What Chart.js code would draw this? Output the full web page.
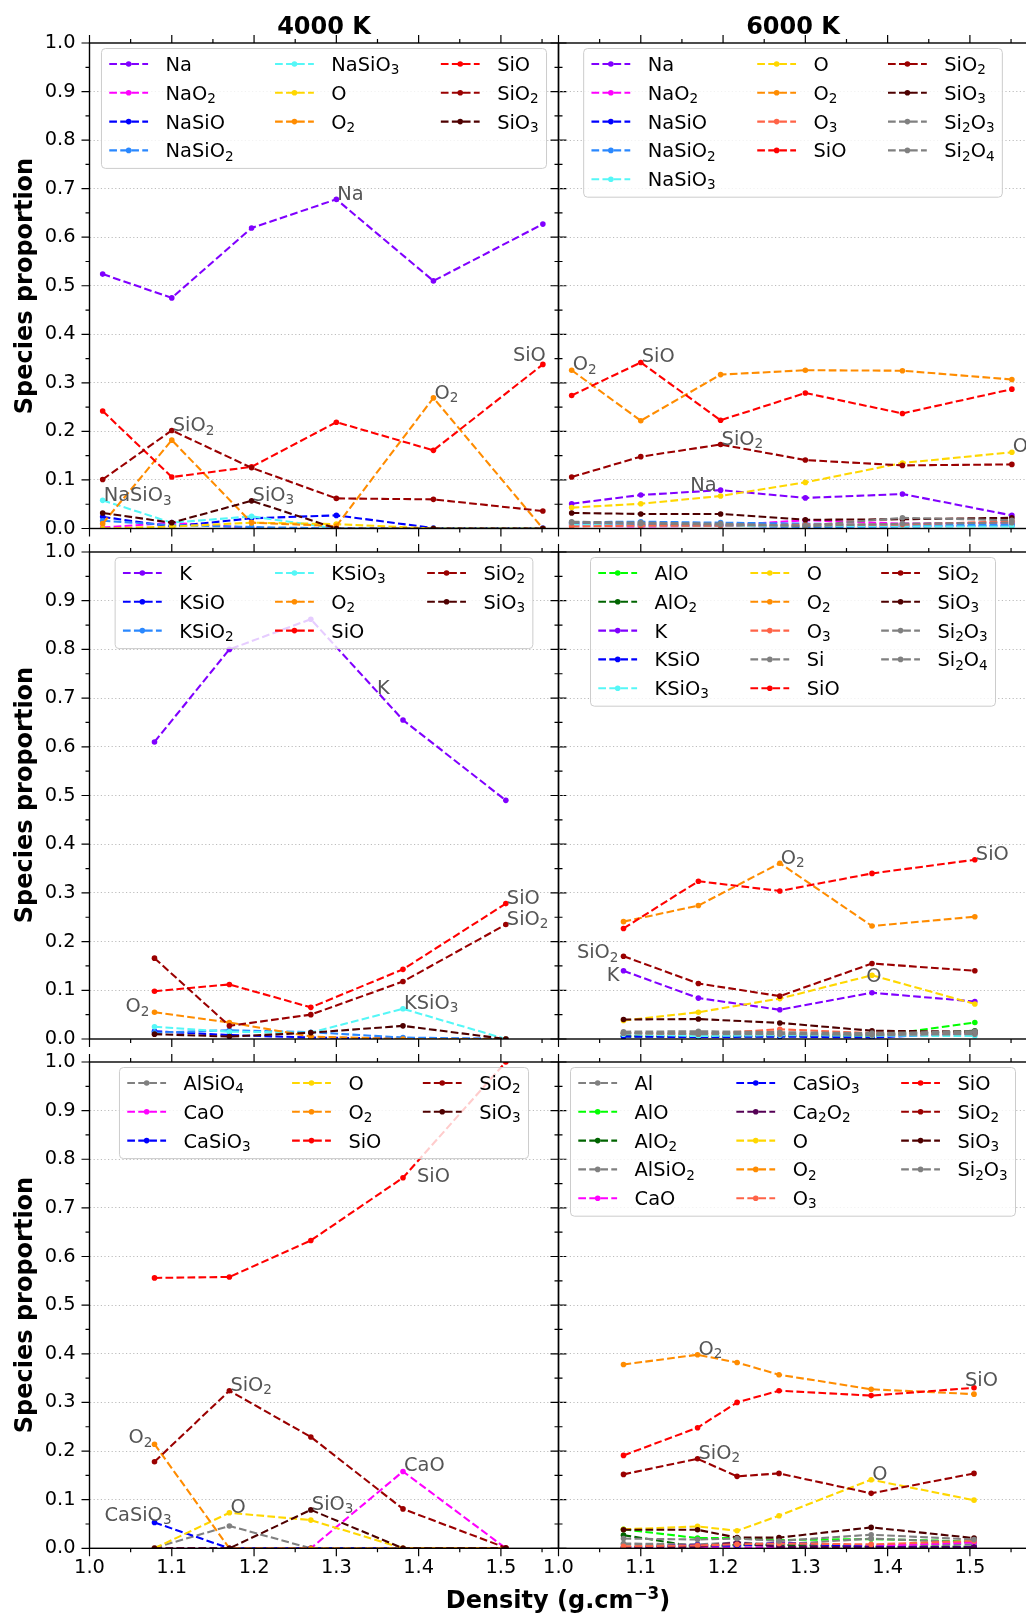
<!DOCTYPE html>
<html>
<head>
<meta charset="utf-8">
<script src="https://cdn.jsdelivr.net/npm/chart.js@4.4.0/dist/chart.umd.min.js"></script>
<style>
html,body{margin:0;padding:0;background:#fff;overflow:hidden;width:1026px;height:1614px;position:relative;font-family:"DejaVu Sans",sans-serif;}
canvas{position:absolute;}
.lbl{position:absolute;font-family:"DejaVu Sans",sans-serif;font-weight:bold;color:#000;white-space:nowrap;z-index:5;}
</style>
</head>
<body>
<div class="lbl" id="t1" style="left:324px;top:26px;font-size:24px;transform:translate(-50%,-50%);">4000 K</div>
<div class="lbl" id="t2" style="left:793px;top:26px;font-size:24px;transform:translate(-50%,-50%);">6000 K</div>
<div class="lbl" style="left:24px;top:286px;font-size:24px;transform:translate(-50%,-50%) rotate(-90deg);">Species proportion</div>
<div class="lbl" style="left:24px;top:795px;font-size:24px;transform:translate(-50%,-50%) rotate(-90deg);">Species proportion</div>
<div class="lbl" style="left:24px;top:1305px;font-size:24px;transform:translate(-50%,-50%) rotate(-90deg);">Species proportion</div>
<div class="lbl" style="left:558px;top:1598px;font-size:24px;transform:translate(-50%,-50%);">Density (g.cm<sup style="font-size:70%;">−3</sup>)</div>
<script>
// ---------------- DATA ----------------
const densityNa = [1.016, 1.100, 1.197, 1.300, 1.418, 1.551];
const densityK = [1.079, 1.170, 1.269, 1.381, 1.506];
const densityCa4000 = [1.079, 1.170, 1.269, 1.381, 1.506];
const densityCa6000 = [1.079, 1.169, 1.217, 1.268, 1.380, 1.505];
const xTickLabels = [1.0, 1.1, 1.2, 1.3, 1.4, 1.5];
const yTickLabels = [0.0, 0.1, 0.2, 0.3, 0.4, 0.5, 0.6, 0.7, 0.8, 0.9, 1.0];

const speciesNa4000 = ['Na', 'NaO2', 'NaSiO', 'NaSiO2', 'NaSiO3', 'O', 'O2', 'SiO', 'SiO2', 'SiO3'];
const valuesNa4000 = [
  [0.524, 0.475, 0.619, 0.678, 0.510, 0.627],
  [0.002, 0.012, 0.001, 0.000, 0.000, 0.000],
  [0.024, 0.004, 0.021, 0.027, 0.001, 0.001],
  [0.016, 0.007, 0.003, 0.000, 0.000, 0.000],
  [0.058, 0.012, 0.025, 0.000, 0.000, 0.000],
  [0.000, 0.004, 0.012, 0.009, 0.000, 0.000],
  [0.010, 0.182, 0.012, 0.005, 0.269, 0.000],
  [0.242, 0.106, 0.127, 0.219, 0.161, 0.338],
  [0.101, 0.202, 0.125, 0.062, 0.060, 0.036],
  [0.032, 0.012, 0.057, 0.000, 0.000, 0.000]
];

const speciesNa6000 = ['Na', 'NaO2', 'NaSiO', 'NaSiO2', 'NaSiO3', 'O', 'O2', 'O3', 'SiO', 'SiO2', 'SiO3', 'Si2O3', 'Si2O4'];
const valuesNa6000 = [
  [0.051, 0.069, 0.079, 0.063, 0.071, 0.027],
  [0.006, 0.004, 0.006, 0.017, 0.010, 0.012],
  [0.010, 0.008, 0.006, 0.003, 0.004, 0.006],
  [0.013, 0.014, 0.012, 0.010, 0.007, 0.008],
  [0.008, 0.006, 0.006, 0.004, 0.004, 0.004],
  [0.043, 0.051, 0.067, 0.095, 0.135, 0.157],
  [0.326, 0.222, 0.317, 0.326, 0.325, 0.307],
  [0.004, 0.006, 0.006, 0.008, 0.008, 0.015],
  [0.274, 0.342, 0.223, 0.279, 0.237, 0.287],
  [0.106, 0.148, 0.173, 0.141, 0.130, 0.132],
  [0.032, 0.030, 0.030, 0.018, 0.019, 0.022],
  [0.014, 0.012, 0.010, 0.006, 0.022, 0.017],
  [0.012, 0.010, 0.008, 0.005, 0.010, 0.012]
];

const speciesK4000 = ['K', 'KSiO', 'KSiO2', 'KSiO3', 'O2', 'SiO', 'SiO2', 'SiO3'];
const valuesK4000 = [
  [0.610, 0.800, 0.862, 0.655, 0.490],
  [0.016, 0.008, 0.003, 0.001, 0.000],
  [0.013, 0.018, 0.014, 0.003, 0.000],
  [0.025, 0.015, 0.013, 0.062, 0.000],
  [0.055, 0.034, 0.005, 0.000, 0.000],
  [0.098, 0.112, 0.065, 0.143, 0.278],
  [0.166, 0.027, 0.050, 0.118, 0.235],
  [0.010, 0.005, 0.013, 0.027, 0.000]
];

const speciesK6000 = ['AlO', 'AlO2', 'K', 'KSiO', 'KSiO3', 'O', 'O2', 'O3', 'Si', 'SiO', 'SiO2', 'SiO3', 'Si2O3', 'Si2O4'];
const valuesK6000 = [
  [0.005, 0.005, 0.006, 0.005, 0.034],
  [0.006, 0.005, 0.006, 0.008, 0.017],
  [0.140, 0.084, 0.060, 0.095, 0.077],
  [0.005, 0.004, 0.005, 0.003, 0.012],
  [0.010, 0.006, 0.008, 0.007, 0.006],
  [0.038, 0.055, 0.083, 0.131, 0.072],
  [0.241, 0.274, 0.361, 0.232, 0.251],
  [0.012, 0.010, 0.020, 0.012, 0.012],
  [0.012, 0.010, 0.010, 0.008, 0.010],
  [0.227, 0.324, 0.304, 0.340, 0.368],
  [0.170, 0.114, 0.088, 0.155, 0.140],
  [0.040, 0.041, 0.033, 0.017, 0.015],
  [0.015, 0.016, 0.014, 0.012, 0.016],
  [0.012, 0.013, 0.011, 0.010, 0.014]
];

const speciesCa4000 = ['AlSiO4', 'CaO', 'CaSiO3', 'O', 'O2', 'SiO', 'SiO2', 'SiO3'];
const valuesCa4000 = [
  [0.001, 0.046, 0.000, 0.000, 0.000],
  [0.000, 0.000, 0.000, 0.158, 0.000],
  [0.053, 0.000, 0.000, 0.000, 0.000],
  [0.000, 0.073, 0.058, 0.000, 0.000],
  [0.214, 0.000, 0.000, 0.000, 0.000],
  [0.556, 0.558, 0.633, 0.762, 1.000],
  [0.178, 0.324, 0.229, 0.081, 0.001],
  [0.000, 0.000, 0.079, 0.000, 0.000]
];

const speciesCa6000 = ['Al', 'AlO', 'AlO2', 'AlSiO2', 'CaO', 'CaSiO3', 'Ca2O2', 'O', 'O2', 'O3', 'SiO', 'SiO2', 'SiO3', 'Si2O3'];
const valuesCa6000 = [
  [0.008, 0.005, 0.006, 0.004, 0.006, 0.008],
  [0.039, 0.021, 0.021, 0.017, 0.019, 0.014],
  [0.027, 0.003, 0.007, 0.007, 0.003, 0.003],
  [0.010, 0.008, 0.012, 0.008, 0.020, 0.012],
  [0.000, 0.003, 0.001, 0.002, 0.005, 0.012],
  [0.002, 0.007, 0.005, 0.012, 0.003, 0.002],
  [0.002, 0.003, 0.012, 0.003, 0.002, 0.002],
  [0.039, 0.045, 0.036, 0.067, 0.141, 0.099],
  [0.378, 0.398, 0.382, 0.357, 0.327, 0.317],
  [0.004, 0.006, 0.008, 0.010, 0.008, 0.015],
  [0.191, 0.248, 0.300, 0.324, 0.314, 0.330],
  [0.152, 0.184, 0.148, 0.154, 0.113, 0.154],
  [0.038, 0.038, 0.022, 0.022, 0.043, 0.021],
  [0.020, 0.018, 0.020, 0.015, 0.028, 0.018]
];

// ---------------- STYLE ----------------
const speciesColors = {
  'Na': '#8000ff', 'K': '#8000ff',
  'NaO2': '#ff00ff', 'CaO': '#ff00ff',
  'NaSiO': '#0000ff', 'KSiO': '#0000ff', 'CaSiO3': '#0000ff',
  'NaSiO2': '#2a88ff', 'KSiO2': '#2a88ff',
  'NaSiO3': '#55f7f7', 'KSiO3': '#55f7f7',
  'O': '#ffd700', 'O2': '#ff8c00', 'O3': '#ff6347',
  'SiO': '#ff0000', 'SiO2': '#9a0000', 'SiO3': '#4e0000',
  'Si2O3': '#808080', 'Si2O4': '#808080', 'Si': '#808080',
  'Al': '#808080', 'AlSiO2': '#808080', 'AlSiO4': '#808080',
  'AlO': '#00ff00', 'AlO2': '#006400', 'Ca2O2': '#550055'
};

// annotation placement: [label, point index, align, dx, dy]
const notesNa4000 = [['Na',3,'left',1,1],['SiO',5,'right',3,-3],['O2',4,'left',1,1],['SiO2',1,'left',1,1],['NaSiO3',0,'left',1,1],['SiO3',2,'left',1,0]];
const notesNa6000 = [['O2',0,'left',1,0],['SiO',1,'left',1,0],['SiO2',2,'left',1,0],['Na',2,'right',-4,1],['O',5,'left',1,0]];
const notesK4000 = [['SiO',4,'left',1,0],['SiO2',4,'left',1,0],['KSiO3',3,'left',1,0],['O2',0,'right',-5,0],['K',3,'left',-26,-26]];
const notesK6000 = [['O2',2,'left',1,1],['SiO',4,'left',1,0],['SiO2',0,'right',-5,2],['K',0,'right',-4,10],['O',3,'center',2,7]];
const notesCa4000 = [['SiO2',1,'left',1,0],['O2',0,'right',-2,-1],['CaSiO3',0,'left',-50,-2],['O',1,'left',1,0],['SiO3',2,'left',1,0],['CaO',3,'left',1,0],['SiO',3,'left',14,4]];
const notesCa6000 = [['O2',1,'left',1,0],['SiO',5,'left',-9,-2],['SiO2',1,'left',1,0],['O',4,'left',1,0]];

const FONT = '"DejaVu Sans"';
const FS = 19.4;
const colBounds = [[89.5, 558.5], [558.5, 1027.5]];
const rowBounds = [[43, 528.5], [552, 1039], [1062, 1548.3]];
const xMin = 1.0, xMax = 1.57, minorStep = 0.05;

const panels = [
  {x: densityNa, species: speciesNa4000, values: valuesNa4000, notes: notesNa4000, col: 0, row: 0},
  {x: densityNa, species: speciesNa6000, values: valuesNa6000, notes: notesNa6000, col: 1, row: 0},
  {x: densityK, species: speciesK4000, values: valuesK4000, notes: notesK4000, col: 0, row: 1},
  {x: densityK, species: speciesK6000, values: valuesK6000, notes: notesK6000, col: 1, row: 1},
  {x: densityCa4000, species: speciesCa4000, values: valuesCa4000, notes: notesCa4000, col: 0, row: 2},
  {x: densityCa6000, species: speciesCa6000, values: valuesCa6000, notes: notesCa6000, col: 1, row: 2}
];

// ---------------- helpers ----------------
function chemParts(t) { return t.match(/[0-9]+|[^0-9]+/g).map(s => ({s, sub: /^[0-9]/.test(s)})); }
function chemWidth(ctx, t, F) {
  let w = 0;
  for (const p of chemParts(t)) { ctx.font = (p.sub ? F * 0.7 : F) + 'px ' + FONT; w += ctx.measureText(p.s).width; }
  return w;
}
function drawChem(ctx, t, x, y, F, color, align) {
  const w = chemWidth(ctx, t, F);
  if (align === 'right') x -= w; else if (align === 'center') x -= w / 2;
  ctx.fillStyle = color; ctx.textAlign = 'left'; ctx.textBaseline = 'alphabetic';
  for (const p of chemParts(t)) {
    ctx.font = (p.sub ? F * 0.7 : F) + 'px ' + FONT;
    ctx.fillText(p.s, x, y + (p.sub ? F * 0.17 : 0));
    x += ctx.measureText(p.s).width;
  }
}
function rrect(ctx, x, y, w, h, r) {
  ctx.beginPath();
  ctx.moveTo(x + r, y); ctx.lineTo(x + w - r, y); ctx.arcTo(x + w, y, x + w, y + r, r);
  ctx.lineTo(x + w, y + h - r); ctx.arcTo(x + w, y + h, x + w - r, y + h, r);
  ctx.lineTo(x + r, y + h); ctx.arcTo(x, y + h, x, y + h - r, r);
  ctx.lineTo(x, y + r); ctx.arcTo(x, y, x + r, y, r); ctx.closePath();
}

function decorPlugin(panel) {
  return {
    id: 'decor',
    afterDraw(chart) {
      const ctx = chart.ctx, ca = chart.chartArea, xs = chart.scales.x, ys = chart.scales.y;
      ctx.save();
      // annotations
      for (const [name, idx, align, dx, dy] of panel.notes) {
        const di = chart.data.datasets.findIndex(d => d.label === name);
        if (di < 0) continue;
        const pt = chart.getDatasetMeta(di).data[idx];
        drawChem(ctx, name, pt.x + dx, pt.y + dy, FS, '#555555', align);
      }
      // legend (matplotlib style, ncol = 3, column-major)
      const items = chart.data.datasets.map(d => ({label: d.label, color: d.borderColor}));
      const n = items.length, ncol = 3, base = Math.floor(n / ncol), large = n % ncol;
      const cols = []; let k = 0;
      for (let c = 0; c < ncol; c++) { const cnt = base + (c < large ? 1 : 0); cols.push(items.slice(k, k + cnt)); k += cnt; }
      const widths = cols.map(col => Math.max(...col.map(it => chemWidth(ctx, it.label, FS))));
      const pad = 7.8, hl = 38.8, htp = 17.5, cs = 41.5, rowH = 28.8;
      const W = 2 * pad + widths.reduce((a, w) => a + hl + htp + w, 0) + cs * (ncol - 1);
      const nrows = base + (large ? 1 : 0);
      const H = 15.5 + (nrows - 1) * rowH + 18;
      const x0 = (ca.left + ca.right) / 2 - W / 2, y0 = ca.top + 5.5;
      rrect(ctx, x0, y0, W, H, 4);
      ctx.fillStyle = 'rgba(255,255,255,0.8)'; ctx.fill();
      ctx.strokeStyle = '#cccccc'; ctx.lineWidth = 1; ctx.stroke();
      let cx = x0 + pad;
      cols.forEach((col, c) => {
        col.forEach((it, r) => {
          const cy = y0 + 15.5 + r * rowH;
          ctx.save();
          ctx.strokeStyle = it.color; ctx.lineWidth = 2.08; ctx.setLineDash([7.7, 3.3]);
          ctx.beginPath(); ctx.moveTo(cx, cy); ctx.lineTo(cx + hl, cy); ctx.stroke();
          ctx.setLineDash([]);
          ctx.fillStyle = it.color; ctx.beginPath(); ctx.arc(cx + hl / 2, cy, 2.8, 0, Math.PI * 2); ctx.fill();
          ctx.restore();
          drawChem(ctx, it.label, cx + hl + htp, cy + 7, FS, '#000', 'left');
        });
        cx += hl + htp + widths[c] + cs;
      });
      // ticks on all four sides, outward
      ctx.strokeStyle = '#000'; ctx.lineWidth = 1.2; ctx.setLineDash([]);
      ctx.beginPath();
      for (let i = 0; i <= 20; i++) {
        const p = ys.getPixelForValue(i * minorStep);
        const L = i % 2 === 0 ? 8 : 4;
        ctx.moveTo(ca.left - L, p); ctx.lineTo(ca.left, p);
        ctx.moveTo(ca.right, p); ctx.lineTo(ca.right + L, p);
      }
      for (let i = 0; xMin + i * minorStep <= xMax + 1e-9; i++) {
        const p = xs.getPixelForValue(xMin + i * minorStep);
        const L = i % 2 === 0 ? 8 : 4;
        ctx.moveTo(p, ca.top - L); ctx.lineTo(p, ca.top);
        ctx.moveTo(p, ca.bottom); ctx.lineTo(p, ca.bottom + L);
      }
      ctx.stroke();
      // spines
      ctx.lineWidth = 1.4;
      ctx.strokeRect(ca.left, ca.top, ca.right - ca.left, ca.bottom - ca.top);
      ctx.restore();
    }
  };
}

// ---------------- build charts ----------------
panels.forEach((p, pi) => {
  const col = colBounds[p.col], row = rowBounds[p.row];
  const ML = p.col === 0 ? 89.5 : 30.5, MR = 10.5, MT = 12;
  const canvasLeft = col[0] - ML;
  const W = Math.round(ML + (col[1] - col[0]) + MR);
  const canvasTop = row[0] - MT;
  const bottomRow = p.row === 2;
  const Ht = bottomRow ? 1614 - canvasTop - 8 : Math.round(MT + (row[1] - row[0]) + 12);
  const MB = Ht - MT - (row[1] - row[0]);
  const cv = document.createElement('canvas');
  cv.width = W; cv.height = Ht;
  cv.style.left = canvasLeft + 'px'; cv.style.top = canvasTop + 'px';
  cv.style.width = W + 'px'; cv.style.height = Ht + 'px';
  document.body.appendChild(cv);
  const n = p.species.length;
  const datasets = p.species.map((sp, i) => {
    const c = speciesColors[sp] || '#808080';
    return {
      label: sp,
      data: p.x.map((xv, j) => ({x: xv, y: p.values[i][j]})),
      borderColor: c, backgroundColor: c,
      pointBackgroundColor: c, pointBorderWidth: 0, pointRadius: 2.8,
      borderWidth: 2.08, borderDash: [7.7, 3.3], tension: 0, fill: false,
      clip: 0, order: n - i
    };
  });
  new Chart(cv, {
    type: 'line',
    data: {datasets},
    options: {
      responsive: false, animation: false, devicePixelRatio: 1, events: [],
      layout: {padding: {left: 0, right: MR, top: MT, bottom: 0}},
      plugins: {legend: {display: false}, tooltip: {enabled: false}},
      scales: {
        x: {
          type: 'linear', min: xMin, max: xMax,
          afterBuildTicks: s => { s.ticks = xTickLabels.map(v => ({value: v})); },
          afterFit: s => { s.height = MB; s.paddingLeft = 0; s.paddingRight = 0; s.paddingTop = 0; s.paddingBottom = 0; },
          ticks: {display: bottomRow, padding: 8, autoSkip: false, maxRotation: 0, color: '#000',
                  font: {family: 'DejaVu Sans', size: FS}, callback: v => Number(v).toFixed(1)},
          grid: {display: false, drawTicks: false},
          border: {display: false}
        },
        y: {
          type: 'linear', min: 0, max: 1,
          afterBuildTicks: s => { s.ticks = yTickLabels.map(v => ({value: v})); },
          afterFit: s => { s.width = ML; s.paddingLeft = 0; s.paddingRight = 0; s.paddingTop = 0; s.paddingBottom = 0; },
          ticks: {display: p.col === 0, padding: 14, color: '#000',
                  font: {family: 'DejaVu Sans', size: FS}, callback: v => Number(v).toFixed(1)},
          grid: {drawTicks: false, lineWidth: 0.9,
                 color: c => (c.tick && (Math.abs(c.tick.value) < 1e-9 || Math.abs(c.tick.value - 1) < 1e-9)) ? 'rgba(0,0,0,0)' : '#b5b5b5'},
          border: {display: false, dash: [1.2, 2.4]}
        }
      }
    },
    plugins: [decorPlugin(p)]
  });
});
</script>
</body>
</html>
